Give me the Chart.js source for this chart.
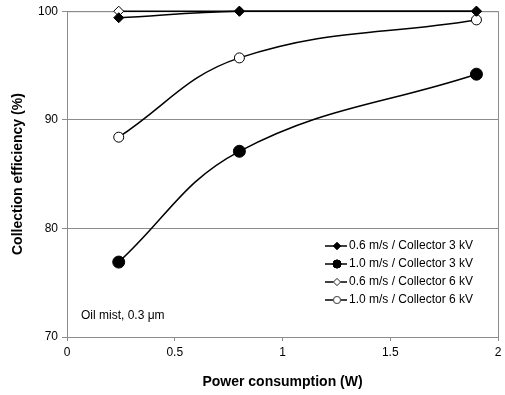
<!DOCTYPE html>
<html>
<head>
<meta charset="utf-8">
<script src="https://cdn.jsdelivr.net/npm/chart.js@4"></script>
<style>
  html, body { margin: 0; padding: 0; background: #fff; }
  #wrap { width: 505px; height: 395px; position: relative; }
</style>
</head>
<body>
<div id="wrap"><canvas id="c" width="505" height="395"></canvas></div>
<script>
// ── data ──────────────────────────────────────────────────────────
const powerW = [0.24, 0.8, 1.9];
const eff06_3kV = [99.4, 100, 100];
const eff10_3kV = [76.9, 87.1, 94.2];
const eff06_6kV = [100, 100, 100];
const eff10_6kV = [88.4, 95.7, 99.2];
const seriesNames = [
  "0.6 m/s / Collector 3 kV",
  "1.0 m/s / Collector 3 kV",
  "0.6 m/s / Collector 6 kV",
  "1.0 m/s / Collector 6 kV"
];
const xTicks = [0, 0.5, 1, 1.5, 2];
const yTicks = [70, 80, 90, 100];
const noteText = "Oil mist, 0.3 \u03bcm";

const FONT = "Arial, 'Liberation Sans', sans-serif";

const toPts = ys => powerW.map((x, i) => ({ x, y: ys[i] }));

// marker look per series (plot radius, legend radius)
const styles = [
  { pointStyle: "rectRot", radius: 5, legR: 3.5, fill: "#000", edge: "#000" },
  { pointStyle: "circle", radius: 6, legR: 4, fill: "#000", edge: "#000" },
  { pointStyle: "rectRot", radius: 5, legR: 3.5, fill: "#fff", edge: "#555" },
  { pointStyle: "circle", radius: 5, legR: 3.5, fill: "#fff", edge: "#555" }
];

// dataset 0 ends up on top, so filled diamonds cover the open ones
const datasets = [eff06_3kV, eff10_3kV, eff06_6kV, eff10_6kV].map((ys, i) => ({
  label: seriesNames[i],
  data: toPts(ys),
  borderColor: "#000",
  borderWidth: 1.5,
  tension: 0.4,
  pointStyle: styles[i].pointStyle,
  pointRadius: styles[i].radius,
  pointBackgroundColor: styles[i].fill,
  pointBorderColor: "#000",
  pointBorderWidth: 1,
  clip: false
}));

// ── frame, legend and note ────────────────────────────────────────
const framePlugin = {
  id: "frame",
  beforeDatasetsDraw(chart) {
    const { ctx, chartArea: a } = chart;
    ctx.save();
    ctx.strokeStyle = "#8c8c8c";
    ctx.lineWidth = 1;
    ctx.strokeRect(a.left + 0.5, a.top + 0.5, a.right - a.left, a.bottom - a.top);
    ctx.restore();
  },
  afterDraw(chart) {
    const { ctx } = chart;
    ctx.save();
    ctx.font = "12px " + FONT;
    ctx.fillStyle = "#000";
    ctx.textBaseline = "middle";
    ctx.fillText(noteText, 81, 316);

    const lx = 325, tx = 349, y0 = 246, dy = 18;
    seriesNames.forEach((name, i) => {
      const y = y0 + i * dy;
      ctx.strokeStyle = "#000";
      ctx.lineWidth = 1.5;
      ctx.beginPath();
      ctx.moveTo(lx, y);
      ctx.lineTo(lx + 22, y);
      ctx.stroke();
      ctx.lineWidth = 1;
      ctx.strokeStyle = styles[i].edge;
      Chart.helpers.drawPoint(ctx, {
        pointStyle: styles[i].pointStyle,
        radius: styles[i].legR,
        borderWidth: 1
      }, lx + 12, y);
      ctx.fillStyle = styles[i].fill;
      ctx.fill();
      ctx.stroke();
      ctx.fillStyle = "#000";
      ctx.fillText(name, tx, y);
    });
    ctx.restore();
  }
};

new Chart(document.getElementById("c"), {
  type: "line",
  data: { datasets },
  options: {
    responsive: false,
    animation: false,
    layout: { padding: { top: 11, right: 4, left: 0, bottom: 0 } },
    plugins: { legend: { display: false }, tooltip: { enabled: false } },
    scales: {
      x: {
        type: "linear",
        min: 0, max: 2,
        afterBuildTicks: s => { s.ticks = xTicks.map(v => ({ value: v })); },
        afterFit: s => { s.height = 58; s.paddingRight = 0; s.paddingLeft = 0; },
        grid: { drawOnChartArea: false, tickLength: 4, color: "#8c8c8c" },
        border: { color: "#8c8c8c" },
        ticks: {
          color: "#000", font: { size: 12, family: FONT }, padding: 4,
          callback: v => String(v)
        },
        title: {
          display: true, text: "Power consumption (W)", color: "#000",
          font: { size: 14, weight: "bold", family: FONT }, padding: { top: 4, bottom: 4 }
        }
      },
      y: {
        min: 70, max: 100,
        afterBuildTicks: s => { s.ticks = yTicks.map(v => ({ value: v })); },
        afterFit: s => { s.width = 67; },
        grid: { color: "#8c8c8c", tickLength: 5 },
        border: { color: "#8c8c8c" },
        ticks: { color: "#000", font: { size: 12, family: FONT }, padding: 4 },
        title: {
          display: true, text: "Collection efficiency (%)", color: "#000",
          font: { size: 14, weight: "bold", family: FONT }, padding: { top: 10, bottom: 0 }
        }
      }
    }
  },
  plugins: [framePlugin]
});
</script>
</body>
</html>
